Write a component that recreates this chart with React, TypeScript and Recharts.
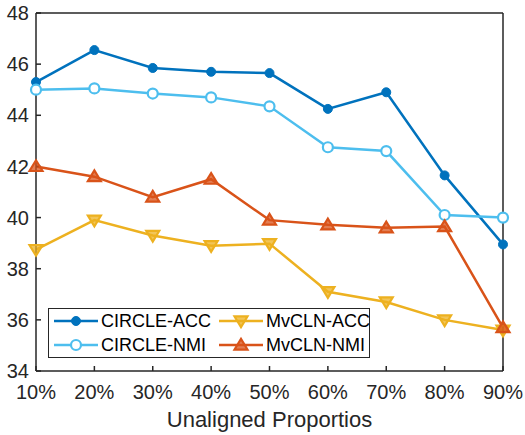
import { Line, LineChart, XAxis, YAxis } from "recharts";

const proportions = ["10%", "20%", "30%", "40%", "50%", "60%", "70%", "80%", "90%"];
const circleAcc = [45.3, 46.55, 45.85, 45.7, 45.65, 44.25, 44.9, 41.65, 38.95];
const circleNmi = [45.0, 45.05, 44.85, 44.7, 44.35, 42.75, 42.6, 40.1, 40.0];
const mvclnAcc = [38.75, 39.9, 39.3, 38.9, 38.98, 37.1, 36.7, 36.0, 35.6];
const mvclnNmi = [42.0, 41.6, 40.8, 41.5, 39.9, 39.72, 39.6, 39.65, 35.7];
const yTicks = [34, 36, 38, 40, 42, 44, 46, 48];

const data = proportions.map((p, i) => ({
  p,
  circleAcc: circleAcc[i],
  circleNmi: circleNmi[i],
  mvclnAcc: mvclnAcc[i],
  mvclnNmi: mvclnNmi[i],
}));

const FONT = "'Liberation Sans', Arial, Helvetica, sans-serif";
const AXIS = "#262626";

type DotProps = { cx?: number; cy?: number; color: string };

const FilledCircle = ({ cx, cy, color }: DotProps) =>
  cx == null || cy == null ? null : <circle cx={cx} cy={cy} r={4.5} fill={color} stroke={color} />;

const OpenCircle = ({ cx, cy, color }: DotProps) =>
  cx == null || cy == null ? null : (
    <circle cx={cx} cy={cy} r={5} fill="#fff" stroke={color} strokeWidth={2.2} />
  );

const TriDown = ({ cx, cy, color }: DotProps) => {
  if (cx == null || cy == null) return null;
  const s = 6.5;
  return (
    <polygon
      points={`${cx - s},${cy - s * 0.7} ${cx + s},${cy - s * 0.7} ${cx},${cy + s * 0.95}`}
      fill={color}
      fillOpacity={0.75}
      stroke={color}
      strokeWidth={2.2}
    />
  );
};

const TriUp = ({ cx, cy, color }: DotProps) => {
  if (cx == null || cy == null) return null;
  const s = 6.5;
  return (
    <polygon
      points={`${cx - s},${cy + s * 0.7} ${cx + s},${cy + s * 0.7} ${cx},${cy - s * 0.95}`}
      fill={color}
      fillOpacity={0.75}
      stroke={color}
      strokeWidth={2.2}
    />
  );
};

const series = [
  { key: "circleAcc", name: "CIRCLE-ACC", color: "#0072BD", Dot: FilledCircle },
  { key: "circleNmi", name: "CIRCLE-NMI", color: "#4DBEEE", Dot: OpenCircle },
  { key: "mvclnAcc", name: "MvCLN-ACC", color: "#EDB120", Dot: TriDown },
  { key: "mvclnNmi", name: "MvCLN-NMI", color: "#D95319", Dot: TriUp },
];

// legend is column-major: CIRCLE on the left, MvCLN on the right
const legendOrder = [0, 2, 1, 3];

function LegendBox() {
  return (
    <div
      style={{
        position: "absolute",
        left: 48,
        top: 308,
        width: 322,
        height: 50,
        border: `1.5px solid ${AXIS}`,
        background: "#fff",
        display: "grid",
        gridTemplateColumns: "165px 155px",
        gridTemplateRows: "24px 24px",
        fontFamily: FONT,
        fontSize: 18,
        color: "#000",
        boxSizing: "border-box",
        whiteSpace: "nowrap",
      }}
    >
      {legendOrder.map((i) => {
        const s = series[i];
        const D = s.Dot;
        return (
          <div key={s.key} style={{ display: "flex", alignItems: "center", paddingLeft: 4 }}>
            <svg width={46} height={20} style={{ marginRight: 2, flexShrink: 0 }}>
              <line x1={1} y1={10} x2={45} y2={10} stroke={s.color} strokeWidth={2.5} />
              <D cx={23} cy={10} color={s.color} />
            </svg>
            <span>{s.name}</span>
          </div>
        );
      })}
    </div>
  );
}

export default function App() {
  return (
    <div style={{ position: "absolute", left: 0, top: 0, width: 525, height: 435, background: "#fff" }}>
      <LineChart
        width={525}
        height={435}
        data={data}
        margin={{ top: 12, right: 21, left: 0, bottom: 0 }}
        style={{ fontFamily: FONT }}
      >
        <XAxis
          dataKey="p"
          height={64}
          stroke={AXIS}
          strokeWidth={1.5}
          tickSize={-5}
          tickMargin={19}
          interval={0}
          tick={{ fill: AXIS, fontSize: 20 }}
          label={{ value: "Unaligned Proportios", position: "insideBottom", offset: 8, fontSize: 22, fill: AXIS }}
        />
        <XAxis
          xAxisId="top"
          dataKey="p"
          orientation="top"
          height={1}
          stroke={AXIS}
          strokeWidth={1.5}
          tickSize={-5}
          interval={0}
          tick={false}
        />
        <YAxis
          domain={[34, 48]}
          ticks={yTicks}
          width={36}
          stroke={AXIS}
          strokeWidth={1.5}
          tickSize={-5}
          tickMargin={12}
          interval={0}
          tick={{ fill: AXIS, fontSize: 20 }}
        />
        <YAxis
          yAxisId="right"
          orientation="right"
          domain={[34, 48]}
          ticks={yTicks}
          width={1}
          stroke={AXIS}
          strokeWidth={1.5}
          tickSize={-5}
          interval={0}
          tick={false}
        />
        {series.map((s) => {
          const D = s.Dot;
          return (
            <Line
              key={s.key}
              dataKey={s.key}
              name={s.name}
              stroke={s.color}
              strokeWidth={2.5}
              dot={(props: any) => <D key={`${s.key}-${props.index}`} cx={props.cx} cy={props.cy} color={s.color} />}
              isAnimationActive={false}
            />
          );
        })}
      </LineChart>
      <LegendBox />
    </div>
  );
}
